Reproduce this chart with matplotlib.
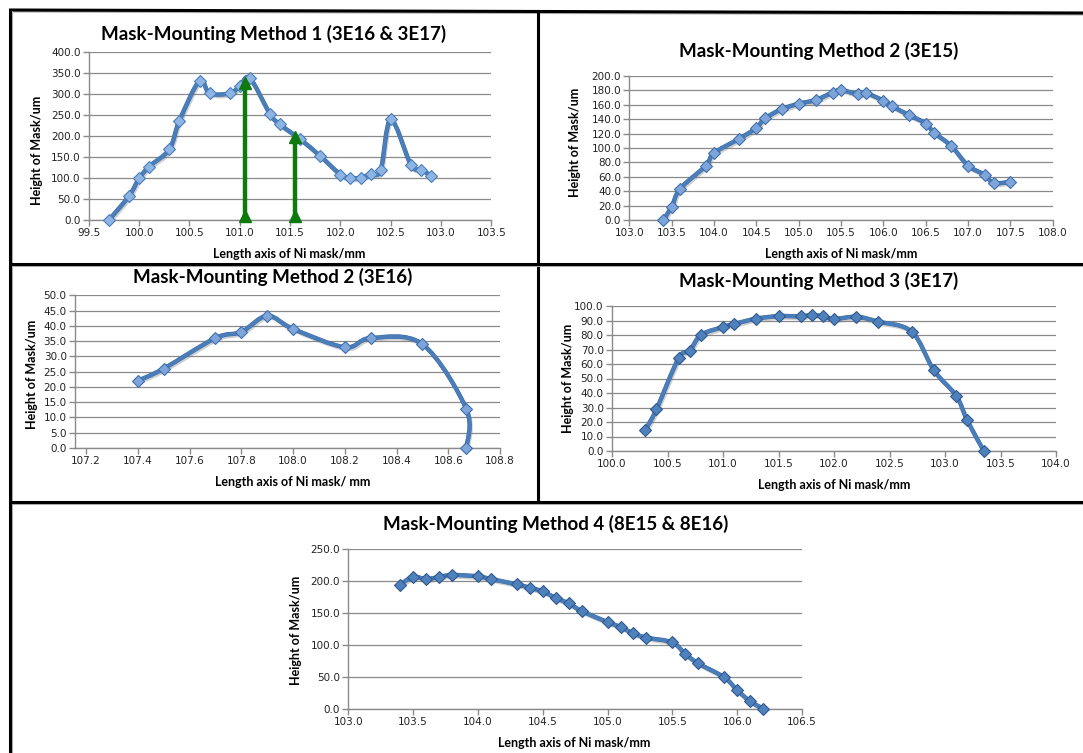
import numpy as np
import matplotlib
matplotlib.use("Agg")
import matplotlib.pyplot as plt
import matplotlib.patheffects as pe
from matplotlib.path import Path
from matplotlib.patches import PathPatch
from matplotlib.lines import Line2D
from matplotlib import transforms

# Method 1 (3E16 & 3E17)
m1_x = [99.7, 99.9, 100.0, 100.1, 100.3, 100.4, 100.6, 100.7, 100.9, 101.0, 101.1,
        101.3, 101.4, 101.6, 101.8, 102.0, 102.1, 102.2, 102.3, 102.4, 102.5,
        102.7, 102.8, 102.9]
m1_y = [0, 57, 99, 127, 168, 236, 331, 301, 301, 318, 337,
        252, 227, 192, 152, 108, 99, 101, 109, 119, 239,
        131, 120, 105]
# green markers on method 1
arrow_x = [101.05, 101.55]
arrow_top = [333, 206]

# Method 2 (3E15)
m2a_x = [103.4, 103.5, 103.6, 103.9, 104.0, 104.3, 104.5, 104.6, 104.8, 105.0,
         105.2, 105.4, 105.5, 105.7, 105.8, 106.0, 106.1, 106.3, 106.5, 106.6,
         106.8, 107.0, 107.2, 107.3, 107.5]
m2a_y = [0, 18.5, 43.5, 75, 93, 113, 128, 141, 154, 161.5,
         166.7, 177, 180.5, 174.5, 176, 165.7, 158, 146, 134, 121,
         103, 75.5, 62.5, 51.4, 53]

# Method 2 (3E16)
m2b_x = [107.4, 107.5, 107.7, 107.8, 107.9, 108.0, 108.2, 108.3, 108.5, 108.67, 108.67]
m2b_y = [22, 26, 36, 38, 43.3, 39, 33, 36, 34, 12.7, 0]

# Method 3 (3E17)
m3_x = [100.3, 100.4, 100.6, 100.7, 100.8, 101.0, 101.1, 101.3, 101.5, 101.7,
        101.8, 101.9, 102.0, 102.2, 102.4, 102.7, 102.9, 103.1, 103.2, 103.35]
m3_y = [14.5, 28.7, 64, 69, 80, 85.5, 87.6, 91.3, 93, 92.9,
        93.8, 92.9, 91, 92.6, 89.2, 82.3, 55.6, 38.2, 21.1, 0]

# Method 4 (8E15 & 8E16)
m4_x = [103.4, 103.5, 103.6, 103.7, 103.8, 104.0, 104.1, 104.3, 104.4, 104.5,
        104.6, 104.7, 104.8, 105.0, 105.1, 105.2, 105.3, 105.5, 105.6, 105.7,
        105.9, 106.0, 106.1, 106.2]
m4_y = [194, 206, 202.6, 205.7, 208.9, 206.8, 202.6, 194.3, 189, 183.3,
        173, 164.6, 152.6, 135.4, 127.6, 117.7, 111, 103.6, 85.4, 70.8,
        49, 29, 11.5, 0]

W, H = 1083, 753
fig = plt.figure(figsize=(W / 100, H / 100), dpi=100)
fig.patch.set_facecolor("white")

title_font = dict(family="Lato", weight="bold", fontsize=13.5, color="black")
label_font = dict(family="Lato", weight="bold", fontsize=9, color="black")

LINE = "#4A7EBB"


def box(left, right, top, bottom):
    return [left / W, 1 - bottom / H, (right - left) / W, (bottom - top) / H]


def smooth_path(ax, x, y):
    # Catmull-Rom style bezier in screen space, like a smoothed spreadsheet line
    pts = ax.transData.transform(np.column_stack([x, y]))
    n = len(pts)
    verts = [pts[0]]
    codes = [Path.MOVETO]
    for i in range(n - 1):
        p0 = pts[i - 1] if i > 0 else pts[i]
        p1 = pts[i]
        p2 = pts[i + 1]
        p3 = pts[i + 2] if i + 2 < n else pts[i + 1]
        verts += [p1 + (p2 - p0) / 6, p2 - (p3 - p1) / 6, p2]
        codes += [Path.CURVE4] * 3
    verts = ax.transData.inverted().transform(np.array(verts))
    return Path(verts, codes)


def panel(pos, x, y, xlim, xticks, ylim, ystep, title, title_xy, ylab_xy, xlab, xlab_xy,
          mface, medge):
    ax = fig.add_axes(box(*pos))
    ax.set_xlim(*xlim)
    ax.set_ylim(*ylim)
    ax.set_xticks(xticks)
    ax.set_yticks(np.arange(ylim[0], ylim[1] + ystep / 2, ystep))
    ax.xaxis.set_major_formatter(matplotlib.ticker.FormatStrFormatter("%.1f"))
    ax.yaxis.set_major_formatter(matplotlib.ticker.FormatStrFormatter("%.1f"))
    for s in ["top", "right"]:
        ax.spines[s].set_visible(False)
    for s in ["left", "bottom"]:
        ax.spines[s].set_color("#8a8a8a")
        ax.spines[s].set_linewidth(1.0)
    ax.tick_params(colors="#8a8a8a", labelcolor="#222222", labelsize=7.5, length=4,
                   width=1.0, direction="out", pad=2)
    ax.yaxis.grid(True, color="#8a8a8a", linewidth=0.9)
    ax.set_axisbelow(True)
    for t in ax.get_xticklabels() + ax.get_yticklabels():
        t.set_family("DejaVu Sans")

    path = smooth_path(ax, x, y)
    ax.add_patch(PathPatch(path, fill=False, edgecolor=LINE, lw=2.6, capstyle="round",
                           joinstyle="round", zorder=3,
                           path_effects=[pe.SimpleLineShadow(offset=(1, -1.5), shadow_color="#777777", alpha=0.35),
                                         pe.Stroke(linewidth=3.2, foreground="#3c6aa3"),
                                         pe.Normal()]))
    ax.plot(x, y, linestyle="none", marker="D", ms=6.5, mfc=mface, mec=medge, mew=0.8,
            zorder=4, clip_on=False)

    fig.text(title_xy[0] / W, 1 - title_xy[1] / H, title, ha="center", va="center", **title_font)
    fig.text(ylab_xy[0] / W, 1 - ylab_xy[1] / H, "Height of Mask/um", ha="center", va="center",
             rotation=90, **label_font)
    fig.text(xlab_xy[0] / W, 1 - xlab_xy[1] / H, xlab, ha="center", va="center", **label_font)
    return ax


ax1 = panel((88.8, 491.4, 51.7, 220), m1_x, m1_y, (99.5, 103.5), np.arange(99.5, 103.51, 0.5),
            (0, 400), 50, "Mask-Mounting Method 1 (3E16 & 3E17)", (273.6, 34), (37, 150),
            "Length axis of Ni mask/mm", (289.6, 254), "#8EB4E3", "#4A7EBB")

# green arrows marking two positions on method 1
for ax_x, ax_top in zip(arrow_x, arrow_top):
    ax1.plot([ax_x, ax_x], [0, ax_top - 8], color="#0E7A0E", lw=3.2, zorder=5, solid_capstyle="butt")
    up = transforms.offset_copy(ax1.transData, fig=fig, x=0, y=4, units="dots")
    ax1.plot([ax_x], [0], marker="^", ms=9, color="#0E7A0E", transform=up, zorder=5, clip_on=False)
    ax1.plot([ax_x], [ax_top - 8], marker="^", ms=9, color="#0E7A0E", zorder=5)

panel((629.3, 1052.8, 76, 220), m2a_x, m2a_y, (103.0, 108.0), np.arange(103.0, 108.01, 0.5),
      (0, 200), 20, "Mask-Mounting Method 2 (3E15)", (819, 50.7), (574.6, 142),
      "Length axis of Ni mask/mm", (841, 254), "#7DA5DA", "#3F6FAD")

# this axis starts a little before its first labelled tick
panel((75, 500, 295.3, 448), m2b_x, m2b_y, (107.157, 108.8), np.arange(107.2, 108.81, 0.2),
      (0, 50), 5, "Mask-Mounting Method 2 (3E16)", (273, 277), (31.7, 374),
      "Length axis of Ni mask/ mm", (293, 482), "#7DA5DA", "#3F6FAD")

panel((612, 1056, 306, 451), m3_x, m3_y, (100.0, 104.0), np.arange(100.0, 104.01, 0.5),
      (0, 100), 10, "Mask-Mounting Method 3 (3E17)", (819, 281), (567.7, 378),
      "Length axis of Ni mask/mm", (834, 485), "#4F81BD", "#2F5A8F")

panel((348.3, 802, 548.7, 708.7), m4_x, m4_y, (103.0, 106.5), np.arange(103.0, 106.51, 0.5),
      (0, 250), 50, "Mask-Mounting Method 4 (8E15 & 8E16)", (555.6, 524), (295.7, 630),
      "Length axis of Ni mask/mm", (574.5, 742.7), "#4F81BD", "#2F5A8F")

# black frame lines dividing the panels
def frame_line(x0, y0, x1, y1):
    fx = [x0 / W, x1 / W]
    fy = [1 - y0 / H, 1 - y1 / H]
    fig.add_artist(Line2D([v + 1.5 / W for v in fx], [v - 1.5 / H for v in fy],
                          color="#b0b0b0", lw=1.5, solid_capstyle="butt"))
    fig.add_artist(Line2D(fx, fy, color="black", lw=2.2, solid_capstyle="butt"))


frame_line(9, 10, 1083, 13)
frame_line(10, 9, 10, 753)
frame_line(537.7, 11, 537.7, 502)
frame_line(10, 264, 1083, 264)
frame_line(10, 502, 1083, 502)

fig.savefig("out.png", dpi=100, facecolor="white")
